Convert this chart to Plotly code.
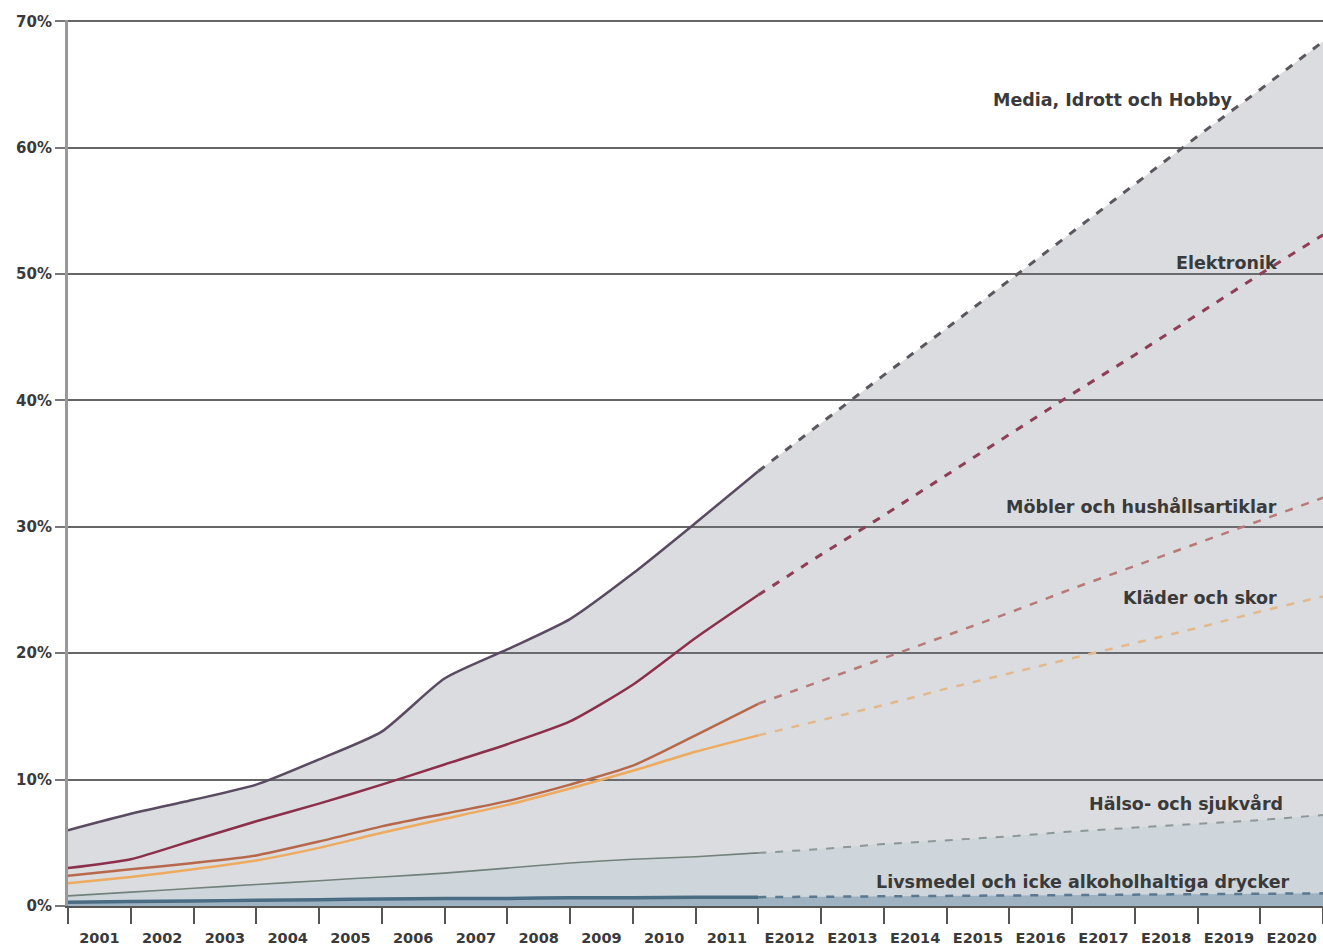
import plotly.graph_objects as go

# ---------------- data ----------------
categories = ["2001", "2002", "2003", "2004", "2005", "2006", "2007", "2008", "2009", "2010", "2011",
              "E2012", "E2013", "E2014", "E2015", "E2016", "E2017", "E2018", "E2019", "E2020"]
y_ticks = [0, 10, 20, 30, 40, 50, 60, 70]
y_tick_labels = ["0%", "10%", "20%", "30%", "40%", "50%", "60%", "70%"]

series_names = ["Media, Idrott och Hobby", "Elektronik", "Möbler och hushållsartiklar",
                "Kläder och skor", "Hälso- och sjukvård",
                "Livsmedel och icke alkoholhaltiga drycker"]

# actual values (solid part)
media_actual = [6.0, 7.3, 8.4, 9.6, 11.6, 13.8, 18.0, 20.3, 22.7, 26.3, 30.3, 34.4]
elektronik_actual = [3.0, 3.7, 5.2, 6.7, 8.1, 9.6, 11.2, 12.8, 14.6, 17.5, 21.2, 24.6]
mobler_actual = [2.4, 2.9, 3.4, 4.0, 5.1, 6.3, 7.3, 8.3, 9.6, 11.1, 13.5, 16.0]
klader_actual = [1.8, 2.3, 2.9, 3.6, 4.6, 5.8, 6.9, 8.0, 9.3, 10.7, 12.2, 13.5]
halso_actual = [0.8, 1.1, 1.4, 1.7, 2.0, 2.3, 2.6, 3.0, 3.4, 3.7, 3.9, 4.2]
livsmedel_actual = [0.3, 0.35, 0.4, 0.45, 0.5, 0.55, 0.6, 0.6, 0.65, 0.65, 0.7, 0.7]

# forecast values (dashed part, starting at the last actual point)
media_forecast = [34.4, 38.2, 42.0, 45.7, 49.5, 53.3, 57.1, 60.9, 64.6, 68.4]
elektronik_forecast = [24.6, 27.8, 30.9, 34.1, 37.3, 40.5, 43.6, 46.8, 50.0, 53.1]
mobler_forecast = [16.0, 17.8, 19.6, 21.4, 23.2, 25.1, 26.9, 28.7, 30.5, 32.3]
klader_forecast = [13.5, 14.7, 15.9, 17.2, 18.4, 19.6, 20.8, 22.0, 23.3, 24.5]
halso_forecast = [4.2, 4.5, 4.9, 5.2, 5.5, 5.9, 6.2, 6.5, 6.8, 7.2]
livsmedel_forecast = [0.7, 0.73, 0.77, 0.8, 0.83, 0.87, 0.9, 0.93, 0.97, 1.0]

actuals = [media_actual, elektronik_actual, mobler_actual, klader_actual, halso_actual, livsmedel_actual]
forecasts = [media_forecast, elektronik_forecast, mobler_forecast, klader_forecast, halso_forecast,
             livsmedel_forecast]

# ---------------- styles ----------------
solid_colors = ["#5a4a62", "#8c2f4a", "#b8684a", "#eeaa5e", "#72827a", "#4b6d84"]
solid_widths = [2.5, 2.5, 2.5, 2.5, 1.6, 3.5]
dash_colors = ["#5c5660", "#8e3e55", "#b87a78", "#e3b98c", "#8c9898", "#5a7890"]
dash_widths = [3, 3, 2.5, 2.5, 2, 2.5]
label_pos = [(18.6, 63.8), (19.3, 50.9), (19.3, 31.6), (19.3, 24.4), (19.4, 8.1), (19.5, 1.9)]

FONT = "DejaVu Sans"
TEXT = "#3a3a3a"

fig = go.Figure()

def xs(start, n):
    return list(range(start, start + n))

# gray area beneath the top series
full_media = media_actual + media_forecast[1:]
fig.add_trace(go.Scatter(x=xs(0, len(full_media)), y=full_media, mode="lines",
                         line=dict(width=0), fill="tozeroy",
                         fillcolor="rgba(112,118,132,0.26)", hoverinfo="skip", showlegend=False))
# faint bluish tint near the bottom
full_halso = halso_actual + halso_forecast[1:]
fig.add_trace(go.Scatter(x=xs(0, len(full_halso)), y=full_halso, mode="lines",
                         line=dict(width=0), fill="tozeroy",
                         fillcolor="rgba(140,175,200,0.15)", hoverinfo="skip", showlegend=False))
full_liv = livsmedel_actual + livsmedel_forecast[1:]
fig.add_trace(go.Scatter(x=xs(0, len(full_liv)), y=full_liv, mode="lines",
                         line=dict(width=0), fill="tozeroy",
                         fillcolor="rgba(70,115,145,0.35)", hoverinfo="skip", showlegend=False))

for i, name in enumerate(series_names):
    a = actuals[i]
    f = forecasts[i]
    fig.add_trace(go.Scatter(x=xs(len(a) - 1, len(f)), y=f, mode="lines", name=name + " (prognos)",
                             line=dict(color=dash_colors[i], width=dash_widths[i], dash="8px,9px"),
                             showlegend=False))
    fig.add_trace(go.Scatter(x=xs(0, len(a)), y=a, mode="lines", name=name,
                             line=dict(color=solid_colors[i], width=solid_widths[i],
                                       shape="spline", smoothing=0.6),
                             showlegend=False))
    lx, ly = label_pos[i]
    fig.add_annotation(x=lx, y=ly, xref="x", yref="y", text="<b>" + name + "</b>",
                       showarrow=False, xanchor="right", yanchor="middle",
                       font=dict(family=FONT, size=17.5, color=TEXT))

fig.update_layout(
    width=1323, height=952,
    margin=dict(l=68, r=0, t=20, b=46, autoexpand=False),
    paper_bgcolor="white", plot_bgcolor="white",
    showlegend=False,
    xaxis=dict(
        range=[0, 20],
        automargin=False,
        tickmode="array",
        tickvals=[i + 0.5 for i in range(len(categories))],
        ticktext=["<b>" + c + "</b>" for c in categories],
        ticks="outside", ticklen=18, tickcolor="rgba(0,0,0,0)",
        ticklabeloverflow="allow",
        tickfont=dict(family=FONT, size=14.5, color=TEXT),
        showgrid=False, zeroline=False,
        showline=True, linecolor="#555", linewidth=2,
        minor=dict(tickmode="linear", tick0=0, dtick=1, ticks="outside", ticklen=16,
                   tickcolor="#555", tickwidth=2, showgrid=False),
    ),
    yaxis=dict(
        range=[0, 70.1],
        automargin=False,
        tickmode="array", tickvals=y_ticks,
        ticktext=["<b>" + t + "</b>" for t in y_tick_labels],
        tickfont=dict(family=FONT, size=15, color=TEXT),
        ticks="outside", ticklen=10, tickcolor="#777", tickwidth=2,
        showgrid=True, gridcolor="#666", gridwidth=2,
        zeroline=False,
        showline=True, linecolor="#999", linewidth=3,
    ),
)

fig.write_html("out.html")
